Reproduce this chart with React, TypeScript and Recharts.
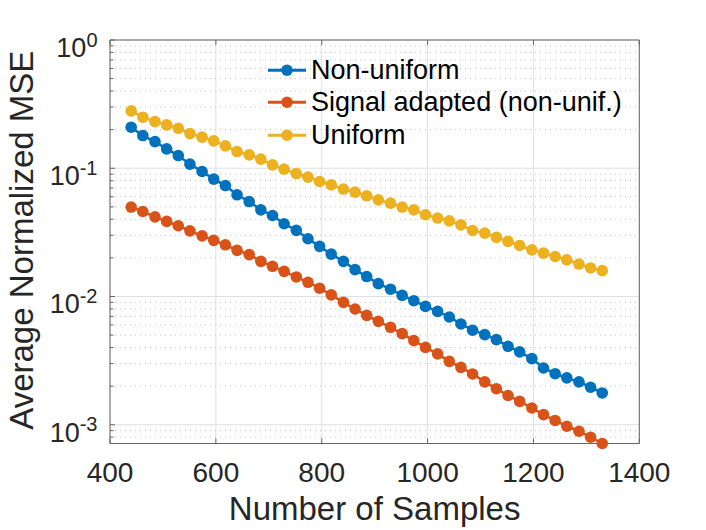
import React from 'react';
import { LineChart, Line, XAxis, YAxis, CartesianGrid, Legend } from 'recharts';

// ---------- data ----------
const samples = [
  440, 462, 485, 507, 529, 551, 574, 596, 618, 640, 663, 685, 707, 729, 752, 774, 796, 818, 841, 863,
  885, 907, 930, 952, 974, 996, 1019, 1041, 1063, 1085, 1108, 1130, 1152, 1174, 1197, 1219, 1241, 1263,
  1286, 1308, 1330,
];

const nonUniform = [
  0.2089, 0.1798, 0.1614, 0.1416, 0.1256, 0.1076, 0.0943, 0.0823, 0.0733, 0.0621, 0.055, 0.0474,
  0.0428, 0.0369, 0.0328, 0.0282, 0.0246, 0.0214, 0.0188, 0.0162, 0.0143, 0.0126, 0.0114, 0.0102,
  0.00927, 0.00837, 0.00765, 0.00692, 0.00611, 0.00546, 0.00504, 0.00461, 0.00409, 0.0037, 0.00328,
  0.00277, 0.0025, 0.00232, 0.00216, 0.00196, 0.00177,
];

const signalAdapted = [
  0.0498, 0.046, 0.0418, 0.0385, 0.0356, 0.0325, 0.0297, 0.0274, 0.0253, 0.0229, 0.0212, 0.0188,
  0.0172, 0.0157, 0.0142, 0.0129, 0.0116, 0.0103, 0.009, 0.00799, 0.00713, 0.0064, 0.00575, 0.00513,
  0.00453, 0.00401, 0.00357, 0.00312, 0.0028, 0.00249, 0.00216, 0.00191, 0.00169, 0.00152, 0.00135,
  0.0012, 0.00108, 0.000973, 0.00089, 0.000799, 0.000714,
];

const uniform = [
  0.28, 0.25, 0.2311, 0.2178, 0.2052, 0.1863, 0.1747, 0.1634, 0.1494, 0.1349, 0.1272, 0.1177, 0.1063,
  0.0984, 0.0909, 0.0852, 0.0788, 0.0743, 0.0688, 0.0651, 0.061, 0.0567, 0.0535, 0.0498, 0.0474,
  0.0434, 0.0409, 0.0389, 0.0362, 0.0327, 0.0312, 0.0289, 0.0269, 0.025, 0.0231, 0.0218, 0.0205,
  0.0193, 0.0179, 0.0167, 0.0159,
];

const xTicks = [400, 600, 800, 1000, 1200, 1400];
const yMajorTicks = [0.001, 0.01, 0.1, 1];
const yMinorTicks = [
  0.0008, 0.0009, 0.002, 0.003, 0.004, 0.005, 0.006, 0.007, 0.008, 0.009, 0.02, 0.03, 0.04, 0.05,
  0.06, 0.07, 0.08, 0.09, 0.2, 0.3, 0.4, 0.5, 0.6, 0.7, 0.8, 0.9,
];
const yAllTicks = [
  0.0008, 0.0009, 0.001, 0.002, 0.003, 0.004, 0.005, 0.006, 0.007, 0.008, 0.009, 0.01, 0.02, 0.03,
  0.04, 0.05, 0.06, 0.07, 0.08, 0.09, 0.1, 0.2, 0.3, 0.4, 0.5, 0.6, 0.7, 0.8, 0.9, 1,
];

const seriesInfo = [
  { key: 'nonUniform', name: 'Non-uniform', color: '#0072BD' },
  { key: 'signalAdapted', name: 'Signal adapted (non-unif.)', color: '#D95319' },
  { key: 'uniform', name: 'Uniform', color: '#EDB120' },
];

const data = samples.map((n, i) => ({
  n,
  nonUniform: nonUniform[i],
  signalAdapted: signalAdapted[i],
  uniform: uniform[i],
}));

// ---------- style ----------
const FONT = '"Liberation Sans", Arial, Helvetica, sans-serif';
const AXIS = '#666666';
const TEXT = '#262626';
const MAJOR_LEN = 5;
const MINOR_LEN = 3.5;

const isMajor = (v: number) => Math.abs(Math.log10(v) - Math.round(Math.log10(v))) < 1e-6;

const XBottomTick = (props: any) => {
  const { x, y, payload } = props;
  return (
    <g>
      <line x1={x} y1={y} x2={x} y2={y - MAJOR_LEN} stroke={AXIS} strokeWidth={1} />
      <text x={x} y={y + 38} textAnchor="middle" fontSize={28} fill={TEXT} fontFamily={FONT}>
        {payload.value}
      </text>
    </g>
  );
};

const XTopTick = (props: any) => {
  const { x, y } = props;
  return <line x1={x} y1={y} x2={x} y2={y + MAJOR_LEN} stroke={AXIS} strokeWidth={1} />;
};

const YLeftTick = (props: any) => {
  const { x, y, payload } = props;
  const v = payload.value as number;
  const major = isMajor(v);
  const e = Math.round(Math.log10(v));
  return (
    <g>
      <line x1={x} y1={y} x2={x + (major ? MAJOR_LEN : MINOR_LEN)} y2={y} stroke={AXIS} strokeWidth={1} />
      {major && (
        <text x={x - 12.5} y={y + 17} textAnchor="end" fill={TEXT} fontFamily={FONT}>
          <tspan fontSize={27}>10</tspan>
          <tspan fontSize={20} dy={-10.5}>
            {String(e)}
          </tspan>
        </text>
      )}
    </g>
  );
};

const YRightTick = (props: any) => {
  const { x, y, payload } = props;
  const major = isMajor(payload.value as number);
  return <line x1={x} y1={y} x2={x - (major ? MAJOR_LEN : MINOR_LEN)} y2={y} stroke={AXIS} strokeWidth={1} />;
};

const XLabel = (props: any) => {
  const vb = props.viewBox || {};
  const cx = (vb.x ?? 110) + (vb.width ?? 529.3) / 2;
  const top = vb.y ?? 443.5;
  return (
    <text x={cx} y={top + 76.5} textAnchor="middle" fontSize={33} fill={TEXT} fontFamily={FONT}>
      Number of Samples
    </text>
  );
};

const YLabel = (props: any) => {
  const vb = props.viewBox || {};
  const cy = (vb.y ?? 40) + (vb.height ?? 403.5) / 2 - 1.5;
  const bx = 33.3;
  return (
    <text
      x={bx}
      y={cy}
      transform={`rotate(-90 ${bx} ${cy})`}
      textAnchor="middle"
      fontSize={33}
      fill={TEXT}
      fontFamily={FONT}
    >
      Average Normalized MSE
    </text>
  );
};

const LegendBox = () => (
  <div style={{ fontFamily: FONT, fontSize: 27, color: '#000', lineHeight: '32.5px' }}>
    {seriesInfo.map((s) => (
      <div key={s.key} style={{ display: 'flex', alignItems: 'center', height: 32.5, whiteSpace: 'nowrap' }}>
        <svg width={43} height={32.5} style={{ display: 'block', flex: 'none' }}>
          <line x1={0} y1={16.25} x2={38} y2={16.25} stroke={s.color} strokeWidth={3} />
          <circle cx={19} cy={16.25} r={5.8} fill={s.color} />
        </svg>
        <span>{s.name}</span>
      </div>
    ))}
  </div>
);

export default function App() {
  return (
    <div style={{ position: 'absolute', left: 0, top: 0, width: 706, height: 530, background: '#ffffff' }}>
      <LineChart width={706} height={530} data={data} margin={{ top: 0, right: 0, bottom: 0, left: 0 }}>
        <CartesianGrid
          xAxisId="b"
          yAxisId="l"
          horizontal={true}
          vertical={true}
          horizontalValues={yMajorTicks}
          verticalValues={xTicks}
          stroke="#e0e0e0"
          strokeWidth={1}
        />
        <CartesianGrid
          xAxisId="b"
          yAxisId="l"
          horizontal={true}
          vertical={false}
          horizontalValues={yMinorTicks}
          stroke="#c2c2c2"
          strokeWidth={1}
          strokeDasharray="1 4"
        />
        <XAxis
          xAxisId="b"
          dataKey="n"
          type="number"
          domain={[400, 1400]}
          ticks={xTicks}
          interval={0}
          height={86.5}
          tickSize={0}
          tickMargin={0}
          tickLine={false}
          axisLine={{ stroke: AXIS, strokeWidth: 1 }}
          tick={(p: any) => <XBottomTick {...p} />}
          label={{ content: (p: any) => <XLabel {...p} /> }}
        />
        <XAxis
          xAxisId="t"
          dataKey="n"
          orientation="top"
          type="number"
          domain={[400, 1400]}
          ticks={xTicks}
          interval={0}
          height={40}
          tickSize={0}
          tickMargin={0}
          tickLine={false}
          axisLine={{ stroke: AXIS, strokeWidth: 1 }}
          tick={(p: any) => <XTopTick {...p} />}
        />
        <YAxis
          yAxisId="l"
          type="number"
          scale="log"
          domain={[0.000714, 1]}
          ticks={yAllTicks}
          interval={0}
          width={110}
          tickSize={0}
          tickMargin={0}
          tickLine={false}
          axisLine={{ stroke: AXIS, strokeWidth: 1 }}
          tick={(p: any) => <YLeftTick {...p} />}
          label={{ content: (p: any) => <YLabel {...p} /> }}
        />
        <YAxis
          yAxisId="r"
          orientation="right"
          type="number"
          scale="log"
          domain={[0.000714, 1]}
          ticks={yAllTicks}
          interval={0}
          width={66.7}
          tickSize={0}
          tickMargin={0}
          tickLine={false}
          axisLine={{ stroke: AXIS, strokeWidth: 1 }}
          tick={(p: any) => <YRightTick {...p} />}
        />
        {seriesInfo.map((s) => (
          <Line
            key={s.key}
            xAxisId="b"
            yAxisId="l"
            type="linear"
            dataKey={s.key}
            name={s.name}
            stroke={s.color}
            strokeWidth={2.5}
            dot={{ r: 5.8, fill: s.color, stroke: 'none', strokeWidth: 0 }}
            activeDot={false}
            isAnimationActive={false}
          />
        ))}
        <Legend
          layout="vertical"
          align="center"
          verticalAlign="middle"
          wrapperStyle={{ left: 268, top: 53.75, width: 'auto', height: 'auto' }}
          content={() => <LegendBox />}
        />
      </LineChart>
    </div>
  );
}
